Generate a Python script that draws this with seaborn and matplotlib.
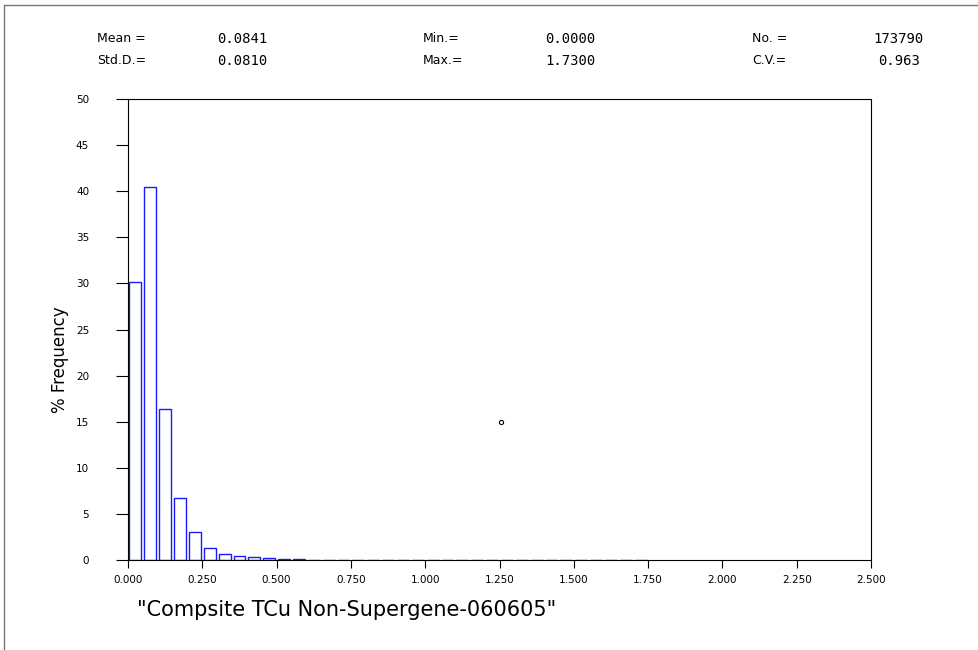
import numpy as np
import pandas as pd
import matplotlib
matplotlib.use("Agg")
import matplotlib.pyplot as plt
import seaborn as sns

# ---- data ----
bin_width = 0.05
freq = [30.2, 40.45, 16.4, 6.7, 3.0, 1.3, 0.62, 0.42, 0.29, 0.18,
        0.10, 0.07, 0.05, 0.04, 0.03, 0.0, 0.03, 0.03, 0.0, 0.02,
        0.02, 0.02, 0.02, 0.0, 0.02, 0.0, 0.0, 0.0, 0.0, 0.0,
        0.0, 0.0, 0.0, 0.02, 0.02]
x_ticks = [0.0, 0.25, 0.5, 0.75, 1.0, 1.25, 1.5, 1.75, 2.0, 2.25, 2.5]
y_ticks = [0, 5, 10, 15, 20, 25, 30, 35, 40, 45, 50]
stats_labels = [["Mean =", "Min.=", "No. ="], ["Std.D.=", "Max.=", "C.V.="]]
stats_values = [["0.0841", "0.0000", "173790"], ["0.0810", "1.7300", "0.963"]]
stray_point = (1.255, 15.0)
x_title = '"Compsite TCu Non-Supergene-060605"'
y_title = "% Frequency"

sns.set_style("white")
plt.rcParams["font.family"] = ["DejaVu Sans"]
plt.rcParams["text.color"] = "black"

centers = [bin_width * (i + 0.5) for i in range(len(freq))]
edges = [bin_width * i for i in range(len(freq) + 1)]
df = pd.DataFrame({"x": centers, "w": freq})

fig = plt.figure(figsize=(9.79, 6.5), dpi=100)
ax = fig.add_axes([128 / 979, 1 - 560 / 650, (871 - 128) / 979, (560 - 99) / 650])

sns.histplot(data=df, x="x", weights="w", bins=edges, fill=False,
             element="bars", shrink=0.8, color="#1a1aff", linewidth=1.0, ax=ax)
ax.plot([stray_point[0]], [stray_point[1]], marker="o", ms=3, mfc="white",
        mec="black", mew=0.8, ls="none")

ax.set_xlim(0, 2.5)
ax.set_ylim(0, 50)
ax.set_xticks(x_ticks)
ax.set_xticklabels([f"{t:.3f}" for t in x_ticks])
ax.set_yticks(y_ticks)
ax.set_yticklabels([str(t) for t in y_ticks])
ax.tick_params(axis="y", direction="out", length=9, width=0.8, pad=19,
               labelsize=7.5, left=True, colors="black")
ax.tick_params(axis="x", direction="out", length=6, width=0.8, pad=5,
               labelsize=7.5, bottom=True, colors="black")
for s in ax.spines.values():
    s.set_color("black")
    s.set_linewidth(0.8)
ax.set_xlabel("")
ax.set_ylabel("")

fig.text(60 / 979, 1 - 360 / 650, y_title, rotation=90, fontsize=12,
         ha="center", va="center", color="black")
fig.text(137 / 979, 1 - 610 / 650, x_title, fontsize=15, ha="left", va="center",
         color="black")

# header stats
label_x = [97, 423, 752]
value_left = [[217, 545, 873], [217, 545, 878]]
row_y = [39, 61]
for r in range(2):
    for c in range(3):
        fig.text(label_x[c] / 979, 1 - row_y[r] / 650, stats_labels[r][c],
                 fontsize=9, ha="left", va="center", color="black")
        fig.text(value_left[r][c] / 979, 1 - row_y[r] / 650, stats_values[r][c],
                 fontsize=10, ha="left", va="center", color="black",
                 family="DejaVu Sans Mono")

# outer frame lines (top and left)
fig.add_artist(plt.Line2D([4 / 979, 1], [1 - 5 / 650, 1 - 5 / 650], color="#777777", lw=1.0))
fig.add_artist(plt.Line2D([4 / 979, 4 / 979], [0, 1 - 5 / 650], color="#777777", lw=1.0))

fig.savefig("out.png", dpi=100)
